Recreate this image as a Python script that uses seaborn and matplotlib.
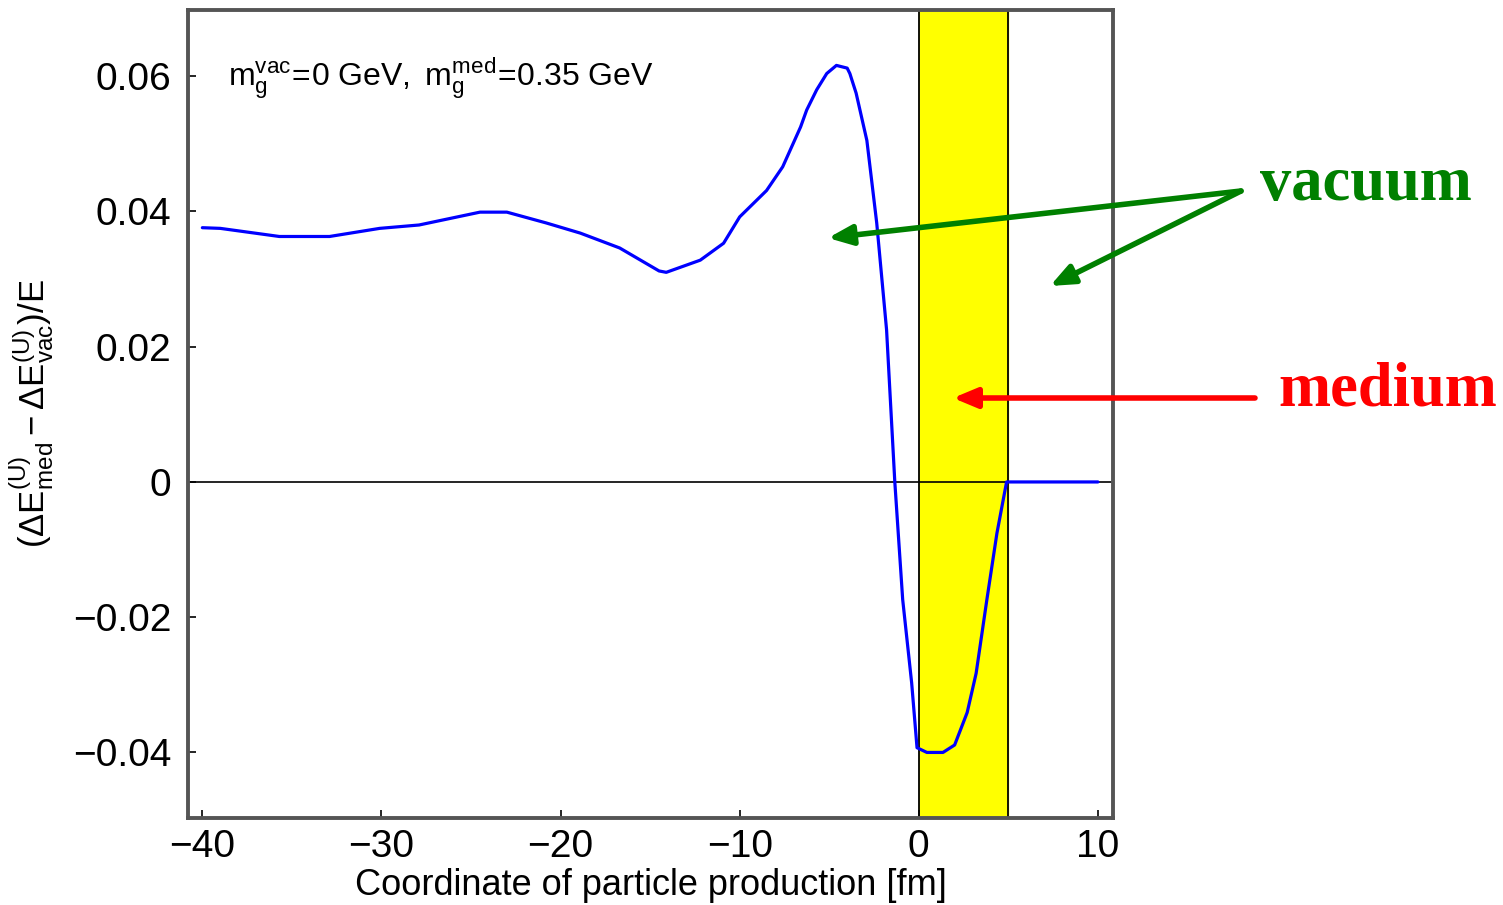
import matplotlib
matplotlib.use("Agg")
import matplotlib.pyplot as plt
import seaborn as sns
import pandas as pd

# ---- data ----
x_fm = [-40.0, -39.0, -35.7, -32.9, -30.1, -27.9, -24.5, -23.0, -20.8, -18.9,
        -16.7, -14.5, -14.1, -12.2, -10.9, -10.0, -8.5, -7.6, -6.6, -6.26, -5.7, -5.14,
        -4.6, -4.0, -3.85, -3.5, -2.9, -2.35, -1.8, -1.34, -0.9, -0.4, -0.1,
        0.45, 1.35, 2.0, 2.7, 3.2, 3.8, 4.36, 4.9, 10.0]
dE = [0.0376, 0.0375, 0.0363, 0.0363, 0.0375, 0.0380, 0.0399, 0.0399, 0.0383, 0.0368,
      0.0346, 0.0312, 0.0310, 0.0328, 0.0353, 0.0392, 0.0431, 0.0466, 0.0525, 0.0550, 0.0580, 0.0604,
      0.0616, 0.0612, 0.0604, 0.0575, 0.0505, 0.0383, 0.0225, 0.0, -0.0174, -0.0297, -0.0393,
      -0.0400, -0.0400, -0.0389, -0.0341, -0.0283, -0.0174, -0.0076, 0.0, 0.0]
medium_band = [0.0, 5.0]
xticks = [-40, -30, -20, -10, 0, 10]
yticks = [-0.04, -0.02, 0.0, 0.02, 0.04, 0.06]
ytick_labels = ["\u22120.04", "\u22120.02", "0", "0.02", "0.04", "0.06"]
xtick_labels = ["\u221240", "\u221230", "\u221220", "\u221210", "0", "10"]

df = pd.DataFrame({"x": x_fm, "y": dE})

sns.set_theme(style="white")
plt.rcParams["font.family"] = ["Liberation Sans", "DejaVu Sans"]
plt.rcParams["mathtext.fontset"] = "custom"
plt.rcParams["mathtext.rm"] = "Liberation Sans"
plt.rcParams["mathtext.it"] = "Liberation Sans"
plt.rcParams["mathtext.bf"] = "Liberation Sans:bold"
plt.rcParams["text.color"] = "black"
plt.rcParams["axes.labelcolor"] = "black"
plt.rcParams["xtick.color"] = "black"
plt.rcParams["ytick.color"] = "black"

fig = plt.figure(figsize=(15.03, 9.05), dpi=100)
ax = fig.add_axes([0.1251, 0.0961, 0.6154, 0.8929])

ax.axvspan(medium_band[0], medium_band[1], color="#ffff00", zorder=0)
for xv in medium_band:
    ax.axvline(xv, color="black", lw=1.3, zorder=1)
ax.axhline(0, color="black", lw=1.2, zorder=1)

sns.lineplot(data=df, x="x", y="y", ax=ax, color="#0000ff", lw=2.3,
             estimator=None, sort=False, zorder=3)

ax.set_xlim(-40.8, 10.84)
ax.set_ylim(-0.0497, 0.0698)
ax.set_xticks(xticks)
ax.set_xticklabels(xtick_labels)
ax.set_yticks(yticks)
ax.set_yticklabels(ytick_labels)
ax.tick_params(axis="both", direction="in", length=6, width=1.2,
               labelsize=28, left=True, bottom=True, pad=12)
ax.tick_params(axis="x", pad=8)

for s in ax.spines.values():
    s.set_color("#555555")
    s.set_linewidth(2.8)

ax.set_xlabel("Coordinate of particle production [fm]", fontsize=26, labelpad=2)
ax.set_ylabel(r"$(\Delta\mathrm{E}^{(\mathrm{U})}_{\mathrm{med}}-\Delta\mathrm{E}^{(\mathrm{U})}_{\mathrm{vac}})/\mathrm{E}$",
              fontsize=25, labelpad=12)

ax.text(0.043, 0.915,
        r"$\mathrm{m}_{\mathrm{g}}^{\mathrm{vac}}\!=\!0\ \mathrm{GeV},\ \mathrm{m}_{\mathrm{g}}^{\mathrm{med}}\!=\!0.35\ \mathrm{GeV}$",
        transform=ax.transAxes, fontsize=23, ha="left", va="center")

# annotations outside the axes (figure pixel coordinates, origin bottom-left)
H = 905
green = "#008000"
red = "#ff0000"
fig.text(1260 / 1503, 1 - 200 / H, "vacuum", color=green, fontsize=45,
         fontweight="bold", family="Liberation Serif", ha="left", va="baseline")
fig.text(1278 / 1503, 1 - 405 / H, "medium", color=red, fontsize=45,
         fontweight="bold", family="Liberation Serif", ha="left", va="baseline")

arrow_kw = dict(arrowstyle="-|>,head_length=1.2,head_width=0.5", lw=4)
for head in [(828, 238), (1050, 286)]:
    ax.annotate("", xy=(head[0] / 1503, 1 - head[1] / H), xycoords="figure fraction",
                xytext=(1241 / 1503, 1 - 191 / H), textcoords="figure fraction",
                arrowprops=dict(color=green, shrinkA=0, shrinkB=0, **arrow_kw),
                annotation_clip=False)
ax.annotate("", xy=(953 / 1503, 1 - 398 / H), xycoords="figure fraction",
            xytext=(1255 / 1503, 1 - 398 / H), textcoords="figure fraction",
            arrowprops=dict(color=red, shrinkA=0, shrinkB=0, **arrow_kw),
            annotation_clip=False)

fig.savefig("out.png", dpi=100)
